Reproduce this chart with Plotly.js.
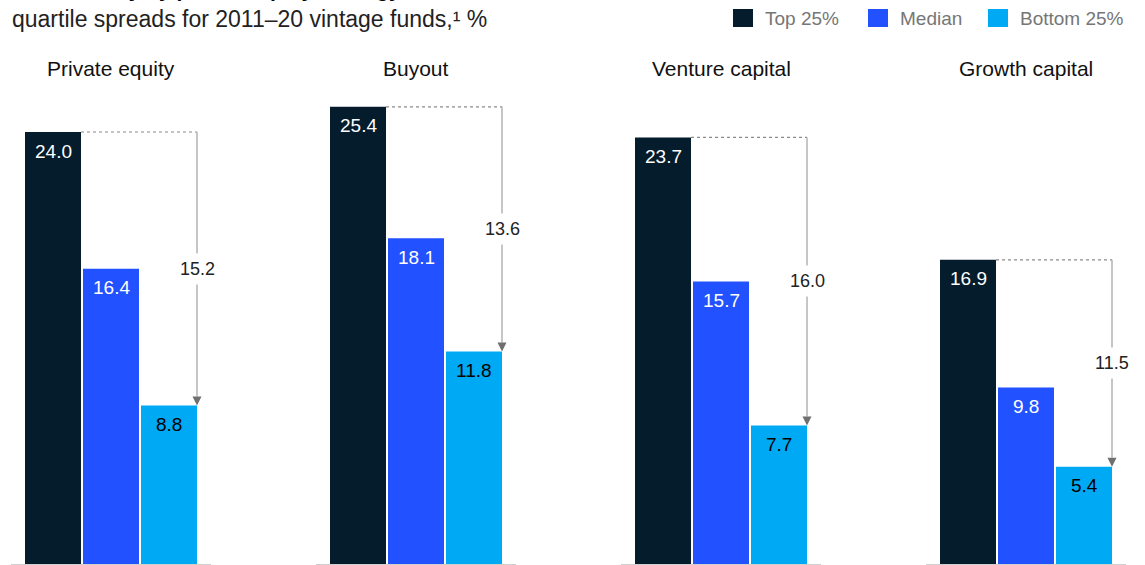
<!DOCTYPE html>
<html>
<head>
<meta charset="utf-8">
<script src="https://cdn.plot.ly/plotly-3.0.1.min.js"></script>
<style>html,body{margin:0;padding:0;background:#fff;}#chart{width:1145px;height:565px;}</style>
</head>
<body>
<div id="chart"></div>
<script>
// ---- data ----
const panels = ["Private equity", "Buyout", "Venture capital", "Growth capital"];
const seriesNames = ["Top 25%", "Median", "Bottom 25%"];
const top25 = [24.0, 25.4, 23.7, 16.9];
const median = [16.4, 18.1, 15.7, 9.8];
const bottom25 = [8.8, 11.8, 7.7, 5.4];
const seriesColors = ["#051c2c", "#2251ff", "#00a9f4"];
const labelColors = ["#ffffff", "#ffffff", "#000000"];
const titleText = "Returns vary by private equity strategy,";
const subtitleText = "quartile spreads for 2011–20 vintage funds,¹ %";

// ---- layout helpers ----
const W = 1145, H = 565;
const FONT = "Liberation Sans, Arial, Helvetica, sans-serif";
const pxPerUnit = 18;
const baselinePx = 564;
const panelStart = 11, panelStep = 305, panelWidth = 200;
const slot = 58, barW = 56;
const pad = (panelWidth - 3 * slot) / 2 / slot;
const xr = [-0.5 - pad, 2.5 + pad];
const halfBar = barW / slot / 2;

const seriesVals = [top25, median, bottom25];
const traces = [];
const annotations = [];
const shapes = [];
const layout = {
  width: W, height: H,
  margin: {l: 0, r: 0, t: 0, b: 0},
  paper_bgcolor: "#ffffff", plot_bgcolor: "rgba(0,0,0,0)",
  barmode: "overlay",
  showlegend: false,
  font: {family: FONT, color: "#222"},
  yaxis: {domain: [(H - baselinePx) / H, 1], range: [0, baselinePx / pxPerUnit],
          visible: false, fixedrange: true},
  annotations: annotations,
  shapes: shapes
};

panels.forEach((name, p) => {
  const ax = p === 0 ? "x" : "x" + (p + 1);
  const axKey = p === 0 ? "xaxis" : "xaxis" + (p + 1);
  const x0 = panelStart + p * panelStep;
  layout[axKey] = {
    domain: [x0 / W, (x0 + panelWidth) / W], range: xr, anchor: "y",
    showline: true, linecolor: "#cfcfcf", linewidth: 1.5,
    showticklabels: false, ticks: "", ticklen: 0, showgrid: false, zeroline: false,
    fixedrange: true
  };
  seriesVals.forEach((vals, q) => {
    traces.push({
      type: "bar", x: [q], y: [vals[p]], width: [barW / slot],
      xaxis: ax, yaxis: "y", name: seriesNames[q],
      marker: {color: seriesColors[q], line: {width: 0}},
      hoverinfo: "skip", showlegend: false
    });
    annotations.push({
      xref: ax, yref: "y", x: q, y: vals[p], yanchor: "middle", yshift: -19,
      text: vals[p].toFixed(1), showarrow: false,
      font: {size: 19, color: labelColors[q], family: FONT}
    });
  });
  // panel title
  annotations.push({
    xref: ax + " domain", yref: "paper", x: 0.5, y: 1 - 68 / H, yanchor: "middle",
    text: name, showarrow: false, font: {size: 21, color: "#111", family: FONT}
  });
  // spread bracket
  const hi = top25[p], lo = bottom25[p];
  const xe = 2 + halfBar;
  const headW = 4.5 / slot, headH = 9 / pxPerUnit;
  shapes.push({type: "line", xref: ax, yref: "y", x0: halfBar, x1: xe, y0: hi, y1: hi,
               line: {color: "#8a8a8a", width: 1.2, dash: "3px,3px"}});
  shapes.push({type: "line", xref: ax, yref: "y", x0: xe, x1: xe, y0: hi, y1: lo + headH,
               line: {color: "#b3b3b3", width: 1.5}});
  shapes.push({type: "path", xref: ax, yref: "y",
               path: `M ${xe - headW},${lo + headH} L ${xe + headW},${lo + headH} L ${xe},${lo} Z`,
               fillcolor: "#6f6f6f", line: {width: 0}});
  annotations.push({
    xref: ax, yref: "y", x: xe, y: (hi + lo) / 2, yanchor: "middle",
    text: (hi - lo).toFixed(1), showarrow: false, bgcolor: "#ffffff", borderpad: 5,
    font: {size: 18, color: "#222", family: FONT}
  });
});

// title (clipped at top, as in the source) and subtitle
annotations.push({
  xref: "paper", yref: "paper", x: 10 / W, y: 1 - 3 / H, xanchor: "left", yanchor: "bottom",
  text: "<b>" + titleText + "</b>", showarrow: false, font: {size: 21, color: "#000", family: FONT}
});
annotations.push({
  xref: "paper", yref: "paper", x: 10 / W, y: 1 - 19 / H, xanchor: "left", yanchor: "middle",
  text: subtitleText, showarrow: false, font: {size: 23, color: "#222", family: FONT}
});

// legend (drawn)
const legendX = [733, 868, 988];
seriesNames.forEach((n, i) => {
  shapes.push({type: "rect", xref: "paper", yref: "paper",
               x0: legendX[i] / W, x1: (legendX[i] + 20) / W,
               y0: 1 - 27 / H, y1: 1 - 9 / H,
               fillcolor: seriesColors[i], line: {width: 0}});
  annotations.push({
    xref: "paper", yref: "paper", x: (legendX[i] + 30) / W, y: 1 - 18 / H,
    xanchor: "left", yanchor: "middle", text: n, showarrow: false,
    font: {size: 19, color: "#767676", family: FONT}
  });
});

Plotly.newPlot("chart", traces, layout, {displayModeBar: false, staticPlot: true});
</script>
</body>
</html>
